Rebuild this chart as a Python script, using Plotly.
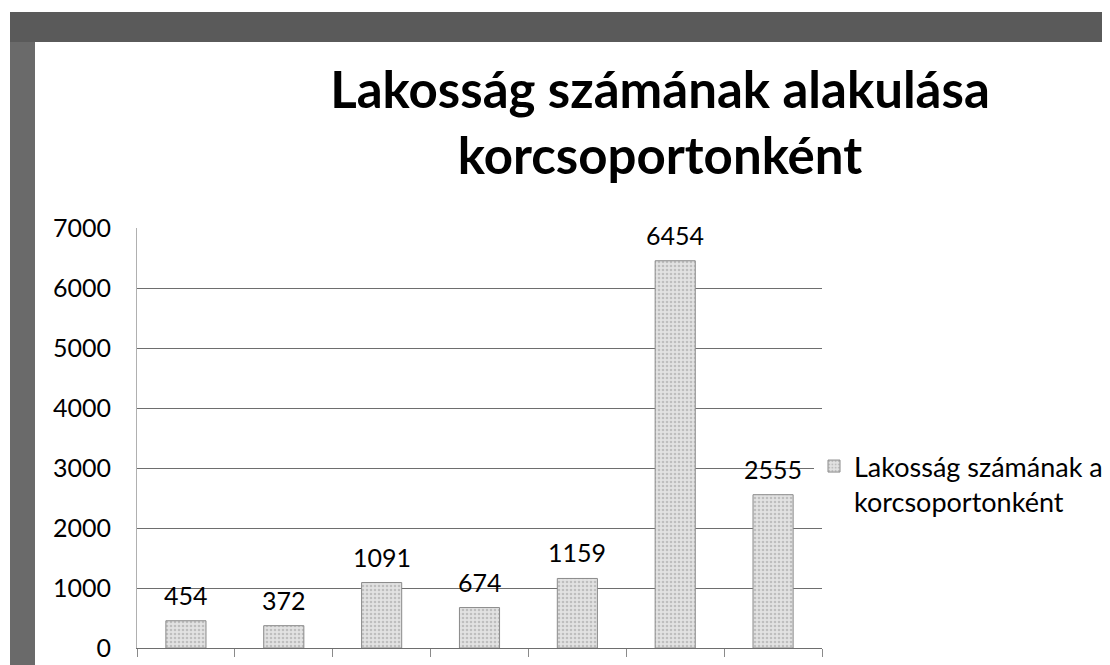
import plotly.graph_objects as go

korcsoport = ["0-2 év", "3-5 év", "6-14 év", "15-18 év", "19-24 év", "25-62 év", "62 év felett"]
lakossag = [454, 372, 1091, 674, 1159, 6454, 2555]
sorozat_nev = "Lakosság számának alakulása<br>korcsoportonként"
cim = "Lakosság számának alakulása<br>korcsoportonként"

# the page has an 8px body margin, so figure px = screen px - 8
W, H = 1110, 665
L, R, T, B = 129, 296, 220, 25


def px_x(px):
    return (px - L) / (W - L - R)


def px_y(py):
    return (H - B - py) / (H - T - B)


fig = go.Figure()
fig.add_trace(go.Bar(
    x=korcsoport,
    y=lakossag,
    name=sorozat_nev,
    cliponaxis=False,
    marker=dict(
        color="#d2d2d2",
        line=dict(color="#8a8a8a", width=1),
        pattern=dict(shape=".", fgcolor="#9a9a9a", bgcolor="#e2e2e2", size=4, solidity=0.35),
    ),
    showlegend=True,
))

# value labels a little above each bar, like the original
for kat, ertek in zip(korcsoport, lakossag):
    fig.add_annotation(
        x=kat, y=ertek, text=str(ertek),
        showarrow=False, yanchor="bottom", yshift=9,
        font=dict(family="Lato", size=25, color="black"),
    )

fig.update_layout(
    width=W, height=H,
    margin=dict(l=L, r=R, t=T, b=B, autoexpand=False),
    paper_bgcolor="white",
    plot_bgcolor="white",
    font=dict(family="Lato", color="black"),
    title=dict(
        text="<b>" + cim + "</b>",
        font=dict(family="Lato", size=51, color="black"),
        x=652 / W, xanchor="center",
        y=1 - 100 / H, yanchor="top",
        yref="container", xref="container",
    ),
    bargap=0.59,
    legend=dict(
        x=px_x(806), y=px_y(434), xanchor="left", yanchor="top",
        font=dict(family="Lato", size=27, color="black"),
        valign="top",
        itemwidth=30,
    ),
    yaxis=dict(
        range=[0, 7000],
        dtick=1000,
        showgrid=True,
        gridcolor="#6e6e6e",
        gridwidth=1,
        zeroline=False,
        showline=True,
        linecolor="#b0b0b0",
        tickfont=dict(family="Lato", size=25, color="black"),
        ticks="",
        ticklabelstandoff=20,
    ),
    xaxis=dict(
        showticklabels=False,
        showline=True,
        linecolor="#6e6e6e",
        ticks="outside",
        tickson="boundaries",
        ticklen=8,
        tickcolor="#8a8a8a",
        showgrid=False,
    ),
    shapes=[
        dict(type="rect", xref="paper", yref="paper",
             x0=px_x(2), x1=px_x(27), y0=px_y(665), y1=px_y(4),
             fillcolor="#6a6a6a", line=dict(width=0), layer="above"),
        dict(type="rect", xref="paper", yref="paper",
             x0=px_x(2), x1=px_x(1110), y0=px_y(34), y1=px_y(4),
             fillcolor="#5a5a5a", line=dict(width=0), layer="above"),
    ],
)

fig.write_html("out.html")
